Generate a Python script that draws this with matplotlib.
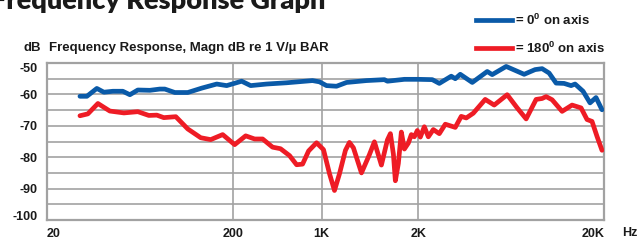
import matplotlib
matplotlib.use("Agg")
import matplotlib.pyplot as plt
from matplotlib.ticker import FixedLocator, NullLocator

plt.rcParams['font.family'] = ['Liberation Sans', 'DejaVu Sans']
plt.rcParams['mathtext.fontset'] = 'custom'
plt.rcParams['mathtext.rm'] = 'Liberation Sans:bold'
plt.rcParams['mathtext.it'] = 'Liberation Sans:bold'
plt.rcParams['mathtext.bf'] = 'Liberation Sans:bold'

# ---- data (frequency in Hz, level in dB) ----
blue_freq = [30.1, 32.8, 37.1, 40.5, 45.3, 51.2, 55.9, 61.7, 71.6, 81.0, 86.2, 97.6,
             114.6, 136.3, 164.1, 185.7, 223.6, 250, 304.7, 390.2, 538, 587, 640, 725,
             821, 1051, 1313, 1363, 1682, 2000, 2378, 2594, 3008, 3162, 3364, 3904,
             4700, 4998, 5944, 7430, 8511, 9284, 10124, 11042, 12188, 13296, 13970,
             15426, 16820, 18114, 19508]
blue_db = [-60.6, -60.6, -58.1, -59.3, -59.0, -59.0, -60.1, -58.6, -58.7, -58.3, -58.3, -59.4,
           -59.4, -58.0, -56.7, -57.2, -55.8, -57.2, -56.7, -56.3, -55.6, -56.0, -57.2, -57.4,
           -56.2, -55.6, -55.3, -55.8, -55.2, -55.2, -55.3, -56.5, -54.2, -55.0, -53.6, -56.2,
           -52.7, -53.7, -51.1, -53.6, -52.1, -51.8, -53.2, -56.4, -56.5, -57.2, -56.7,
           -59.0, -62.7, -61.0, -64.9]

red_freq = [30.1, 33.2, 37.6, 43.6, 51.9, 61.7, 70.7, 78.1, 85.1, 98.8, 114.6, 134.6,
            152.3, 176.7, 205, 235, 262.6, 290, 328, 362, 405, 442, 476, 513, 566, 617,
            665, 707, 752, 810, 851, 894, 988, 1090, 1160, 1265, 1363, 1414, 1468, 1504,
            1561, 1620, 1682, 1767, 1834, 1903, 1975, 2050, 2154, 2264, 2408, 2594, 2794,
            3162, 3405, 3624, 3952, 4584, 5124, 6020, 6814, 7616, 8618, 9284, 9756,
            10506, 11894, 13460, 15042, 16204, 17238, 18348, 19508]
red_db = [-66.8, -66.2, -62.9, -65.3, -65.9, -65.5, -66.7, -66.6, -67.4, -67.1, -71.0, -73.8,
          -74.4, -72.8, -76.0, -73.2, -74.2, -74.2, -76.8, -77.3, -79.5, -82.4, -82.2, -78.0,
          -75.4, -77.6, -85.3, -90.6, -85.3, -77.8, -75.3, -77.0, -85.0, -79.2, -75.1, -82.5,
          -74.5, -72.5, -79.0, -87.5, -82.0, -72.0, -77.4, -75.5, -72.8, -73.5, -71.5, -73.6,
          -70.3, -73.5, -71.2, -72.5, -69.5, -70.5, -67.0, -67.5, -66.0, -61.6, -63.4, -60.1,
          -64.3, -67.8, -61.6, -61.3, -60.7, -61.7, -65.4, -63.4, -64.3, -68.0, -68.6,
          -73.4, -77.8]

x_tick_pos = [20, 200, 602, 2000, 20000]
x_tick_labels = ['20', '200', '1K', '2K', '20K']
y_ticks = [-50, -60, -70, -80, -90, -100]
y_tick_labels = ['-50', '-60', '-70', '-80', '-90', '-100']
y_grid = [-55, -60, -65, -70, -75, -80, -85, -90, -95]

BLUE = '#0a5aa8'
RED = '#ee1c25'
GRID = '#a2a2a2'

W, H = 644, 242
fig = plt.figure(figsize=(W / 100, H / 100), dpi=100)
ax = fig.add_axes([47 / W, 22 / H, 557 / W, 157 / H])

ax.set_xscale('log')
ax.set_xlim(20, 20000)
ax.set_ylim(-100, -50)

for y in y_grid:
    ax.axhline(y, color=GRID, lw=1.2, zorder=1)
for x in x_tick_pos[1:-1]:
    ax.axvline(x, color=GRID, lw=1.2, zorder=1)

ax.plot(red_freq, red_db, color=RED, lw=3.4, solid_joinstyle='round',
        solid_capstyle='round', zorder=3)
ax.plot(blue_freq, blue_db, color=BLUE, lw=3.4, solid_joinstyle='round',
        solid_capstyle='round', zorder=4)

ax.xaxis.set_major_locator(FixedLocator(x_tick_pos))
ax.xaxis.set_minor_locator(NullLocator())
ax.set_xticklabels(x_tick_labels)
ax.set_yticks(y_ticks)
ax.set_yticklabels(y_tick_labels)
ax.tick_params(axis='both', length=0, labelsize=9, colors='#1a1a1a')
ax.tick_params(axis='y', pad=7)
ax.tick_params(axis='x', pad=6)
for lab in ax.get_xticklabels() + ax.get_yticklabels():
    lab.set_fontweight('bold')
xl = ax.get_xticklabels()
xl[0].set_ha('left')
xl[-1].set_ha('right')
yl = ax.get_yticklabels()
yl[0].set_va('top')        # -50 sits just inside the top edge
yl[-1].set_va('baseline')  # -100 sits just inside the bottom edge

for s in ax.spines.values():
    s.set_color(GRID)
    s.set_linewidth(1.6)

def px(x, y):
    return x / W, 1 - y / H

# title (clipped at top-left, as in the reference)
fig.text(*px(325, 9), 'Frequency Response Graph', ha='right', va='baseline',
         fontsize=19.5, fontweight='heavy', family=['Lato', 'DejaVu Sans'], color='#1a1a1a')

fig.text(*px(23, 48), 'dB', ha='left', va='center', fontsize=9.5, fontweight='bold',
         color='#1a1a1a')
fig.text(*px(49, 48), 'Frequency Response, Magn dB re 1 V/\u00b5 BAR', ha='left', va='center',
         fontsize=9.5, fontweight='bold', color='#1a1a1a')

# legend
for yy, col, txt in [(20, BLUE, '= 0$^{0}$ on axis'), (48, RED, '= 180$^{0}$ on axis')]:
    x0, y0 = px(476, yy)
    x1, _ = px(512, yy)
    fig.add_artist(plt.Line2D([x0, x1], [y0, y0], color=col, lw=3.4,
                              transform=fig.transFigure))
    fig.text(*px(515, yy), txt, ha='left', va='center', fontsize=9.5,
             fontweight='bold', color='#1a1a1a')

fig.text(*px(622, 233), 'Hz', ha='left', va='center', fontsize=9, fontweight='bold',
         color='#1a1a1a')

fig.savefig('out.png', dpi=100)
